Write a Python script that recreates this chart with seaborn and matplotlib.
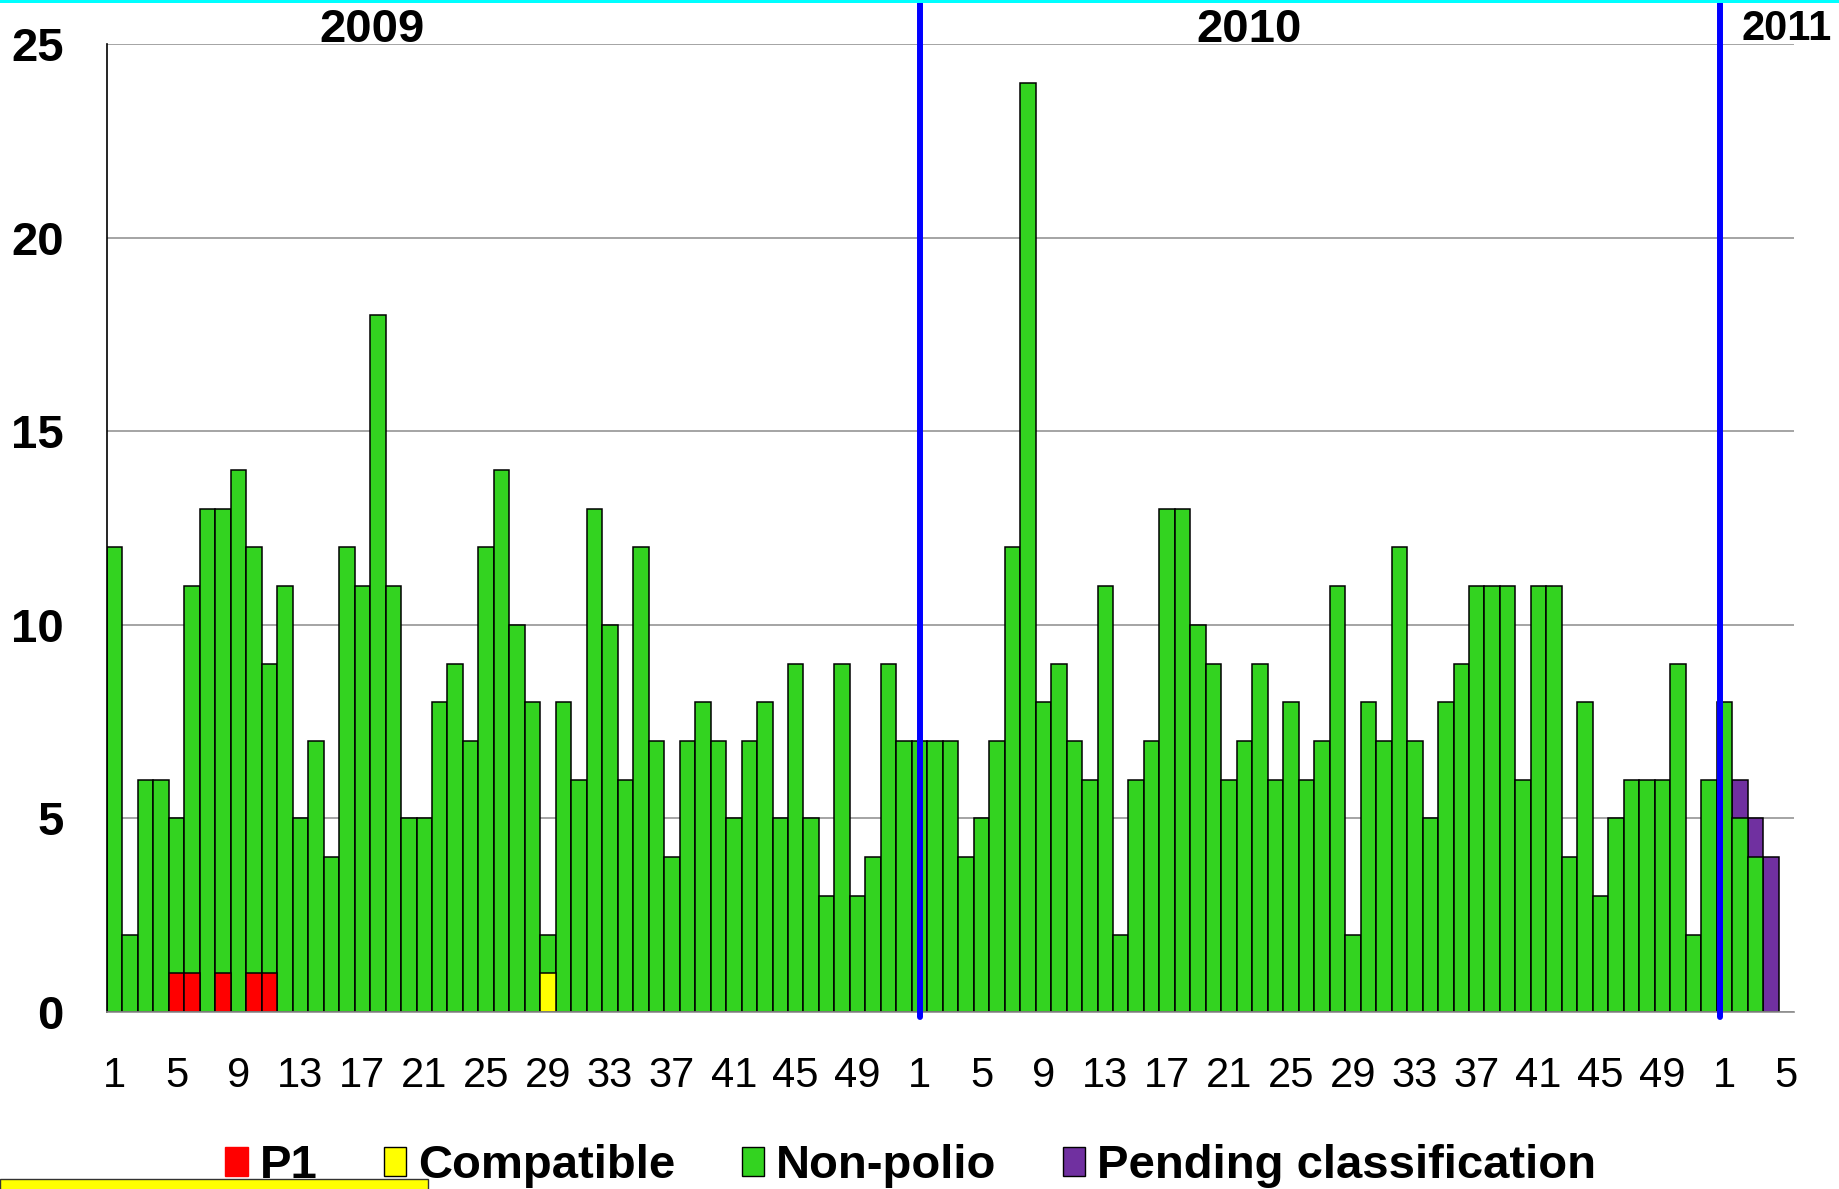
import pandas as pd
import numpy as np
import matplotlib
matplotlib.use("Agg")
import matplotlib.pyplot as plt
from matplotlib.patches import Patch, Rectangle
import seaborn as sns

# weekly cases by classification, 2009 - 2011
weeks_2009 = list(range(1, 53))
weeks_2010 = list(range(1, 53))
weeks_2011 = list(range(1, 6))

nonpolio_2009 = [12, 2, 6, 6, 4, 10, 13, 12, 14, 11, 8, 11, 5, 7, 4, 12, 11, 18, 11, 5,
                 5, 8, 9, 7, 12, 14, 10, 8, 1, 8, 6, 13, 10, 6, 12, 7, 4, 7, 8, 7,
                 5, 7, 8, 5, 9, 5, 3, 9, 3, 4, 9, 7]
nonpolio_2010 = [7, 7, 7, 4, 5, 7, 12, 24, 8, 9, 7, 6, 11, 2, 6, 7, 13, 13, 10, 9,
                 6, 7, 9, 6, 8, 6, 7, 11, 2, 8, 7, 12, 7, 5, 8, 9, 11, 11, 11, 6,
                 11, 11, 4, 8, 3, 5, 6, 6, 6, 9, 2, 6]
nonpolio_2011 = [8, 5, 4, 0, 0]

p1_2009 = {5: 1, 6: 1, 8: 1, 10: 1, 11: 1}
compatible_2009 = {29: 1}
pending_2011 = [0, 1, 1, 4, 0]

years = ["2009"] * len(weeks_2009) + ["2010"] * len(weeks_2010) + ["2011"] * len(weeks_2011)
weeks = weeks_2009 + weeks_2010 + weeks_2011

df = pd.DataFrame({"year": years, "week": weeks})
df["key"] = df["year"] + "-" + df["week"].astype(str)
df["p1"] = [p1_2009.get(w, 0) if y == "2009" else 0 for y, w in zip(years, weeks)]
df["compatible"] = [compatible_2009.get(w, 0) if y == "2009" else 0 for y, w in zip(years, weeks)]
df["nonpolio"] = nonpolio_2009 + nonpolio_2010 + nonpolio_2011
df["pending"] = [0] * 104 + pending_2011

# cumulative heights for stacked layers
df["c1"] = df["p1"]
df["c2"] = df["c1"] + df["compatible"]
df["c3"] = df["c2"] + df["nonpolio"]
df["c4"] = df["c3"] + df["pending"]

colors = {"p1": "#ff0000", "compatible": "#ffff00", "nonpolio": "#33d320", "pending": "#7030a0"}

sns.set_style("white")
plt.rcParams["font.family"] = ["Liberation Sans", "DejaVu Sans"]
plt.rcParams["text.color"] = "black"
plt.rcParams["xtick.color"] = "black"
plt.rcParams["ytick.color"] = "black"

fig = plt.figure(figsize=(18.4, 11.89), dpi=100)
ax = fig.add_axes([107 / 1840, 1 - 1012 / 1189, (1794 - 107) / 1840, (1012 - 44) / 1189])

order = df["key"].tolist()
layers = [("c4", ["pending"], "pending"), ("c3", ["nonpolio"], "nonpolio"),
          ("c2", ["compatible"], "compatible"), ("c1", ["p1"], "p1")]
for col, parts, cname in layers:
    d = df[["key", col] + parts].copy()
    d[col] = d[col].where(d[parts[0]] > 0, np.nan)
    sns.barplot(data=d, x="key", y=col, order=order, color=colors[cname], width=1.0,
                edgecolor="black", linewidth=1.1, errorbar=None, saturation=1, ax=ax)

ax.set_xlim(-0.5, len(order) - 0.5)
ax.set_ylim(0, 25)
ax.set_yticks([0, 5, 10, 15, 20, 25])
ax.set_xlabel("")
ax.set_ylabel("")

tick_pos = []
tick_lab = []
for i, (y, w) in enumerate(zip(years, weeks)):
    if (w - 1) % 4 == 0:
        tick_pos.append(i)
        tick_lab.append(str(w))
ax.set_xticks(tick_pos)
ax.set_xticklabels(tick_lab)

ax.tick_params(axis="x", length=0, labelsize=30, pad=32)
ax.tick_params(axis="y", length=0, labelsize=34, pad=31)
for t in ax.get_yticklabels():
    t.set_fontweight("bold")

ax.set_axisbelow(True)
ax.yaxis.grid(True, color="#8c8c8c", linewidth=1.1)
ax.xaxis.grid(False)
for s in ["top", "right"]:
    ax.spines[s].set_visible(False)
ax.spines["left"].set_color("black")
ax.spines["left"].set_linewidth(1.2)
ax.spines["bottom"].set_color("#8c8c8c")
ax.spines["bottom"].set_linewidth(1.2)

# year separators
for xpos in [52, 103.75]:
    ax.axvline(xpos, ymin=-0.005, ymax=1.042, color="#0000ff", linewidth=4.3, clip_on=False, zorder=5)

blend = ax.get_xaxis_transform()
ax.text(16.6, 1.002, "2009", transform=blend, ha="center", va="baseline", fontsize=34, fontweight="bold")
ax.text(73.3, 1.002, "2010", transform=blend, ha="center", va="baseline", fontsize=34, fontweight="bold")
ax.text(105.1, 1.004, "2011", transform=blend, ha="left", va="baseline", fontsize=30, fontweight="bold")

handles = [Patch(facecolor=colors["p1"], edgecolor=colors["p1"], label="P1"),
           Patch(facecolor=colors["compatible"], edgecolor="black", label="Compatible"),
           Patch(facecolor=colors["nonpolio"], edgecolor="black", label="Non-polio"),
           Patch(facecolor=colors["pending"], edgecolor="black", label="Pending classification")]
fig.legend(handles=handles, ncol=4, frameon=False, loc="center", bbox_to_anchor=(0.495, 0.019),
           prop={"weight": "bold", "size": 34}, handlelength=0.47, handleheight=0.55,
           handletextpad=0.26, columnspacing=1.4, borderaxespad=0, borderpad=0)

# decorations at the edges of the slide
fig.add_artist(Rectangle((0, 1 - 3 / 1189), 1, 3 / 1189, transform=fig.transFigure,
                         facecolor="#00ffff", edgecolor="none"))
fig.add_artist(Rectangle((0, -0.01), 428 / 1840, 0.01 + 10 / 1189, transform=fig.transFigure,
                         facecolor="#ffff00", edgecolor="#333333", linewidth=1))

fig.savefig("out.png", dpi=100)
